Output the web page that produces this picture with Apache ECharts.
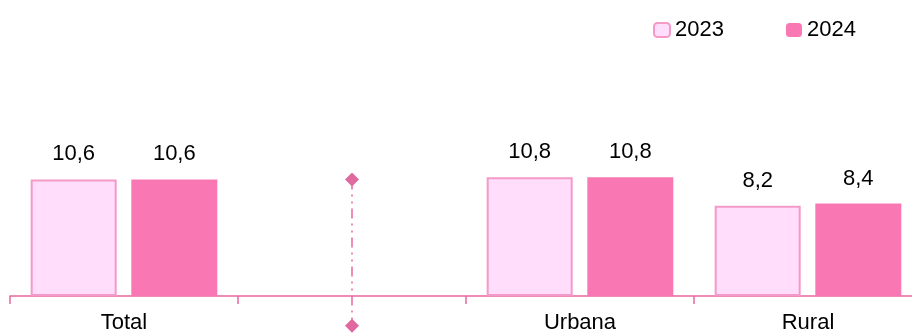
<!DOCTYPE html>
<html>
<head>
<meta charset="utf-8">
<script src="https://cdn.jsdelivr.net/npm/echarts@6/dist/echarts.min.js"></script>
<style>html,body{margin:0;padding:0;background:#fff;}#c{width:912px;height:333px;}</style>
</head>
<body>
<div id="c"></div>
<script>
var categories = ['Total', '', 'Urbana', 'Rural'];
var seriesNames = ['2023', '2024'];
var values2023 = [10.6, null, 10.8, 8.2];
var values2024 = [10.6, null, 10.8, 8.4];
// separator: [category index, top value, bottom value]
var separator = [[1, 10.6, -2.7]];

var fmt = function (p) { return String(p.value).replace('.', ','); };
var font = 'Liberation Sans, Arial, sans-serif';
var sepColor = '#E8689F';

function diamond(c, r) {
  return {
    type: 'polygon',
    shape: { points: [[c[0], c[1] - r], [c[0] + r, c[1]], [c[0], c[1] + r], [c[0] - r, c[1]]] },
    style: { fill: '#E06A9F' }
  };
}

var chart = echarts.init(document.getElementById('c'));
chart.setOption({
  animation: false,
  grid: { left: 10, right: -10, top: 76, bottom: 37, containLabel: false, outerBoundsMode: 'none' },
  legend: {
    left: 648, top: 14,
    itemWidth: 16, itemHeight: 14, itemGap: 62,
    textStyle: { fontFamily: font, fontSize: 22, color: '#000' },
    data: seriesNames
  },
  xAxis: {
    type: 'category',
    data: categories,
    axisLine: { lineStyle: { color: '#E8689F', width: 1.5 } },
    axisTick: { show: true, length: 8, lineStyle: { color: '#E8689F', width: 1.5 } },
    axisLabel: { fontFamily: font, fontSize: 22, color: '#000', margin: 16 }
  },
  yAxis: { type: 'value', min: 0, max: 20, show: false },
  series: [
    {
      name: seriesNames[0], type: 'bar', data: values2023,
      barWidth: 86, barGap: '17%',
      itemStyle: { color: '#FFDDFB', borderColor: '#F49AC9', borderWidth: 2 },
      label: { show: true, position: 'top', distance: 14, fontFamily: font, fontSize: 22, color: '#000', formatter: fmt }
    },
    {
      name: seriesNames[1], type: 'bar', data: values2024,
      barWidth: 86,
      itemStyle: { color: '#F978B4' },
      label: { show: true, position: 'top', distance: 14, fontFamily: font, fontSize: 22, color: '#000', formatter: fmt }
    },
    {
      name: 'separator', type: 'custom', data: separator, clip: false, silent: true,
      renderItem: function (params, api) {
        var top = api.coord([api.value(0), api.value(1)]);
        var bot = api.coord([api.value(0), api.value(2)]);
        return {
          type: 'group',
          children: [
            {
              type: 'line',
              shape: { x1: top[0], y1: top[1], x2: bot[0], y2: bot[1] },
              style: { stroke: sepColor, lineWidth: 1.5, lineDash: [10, 5, 2, 5, 2, 5] }
            },
            diamond(top, 7),
            diamond(bot, 7)
          ]
        };
      }
    }
  ]
});
</script>
</body>
</html>
